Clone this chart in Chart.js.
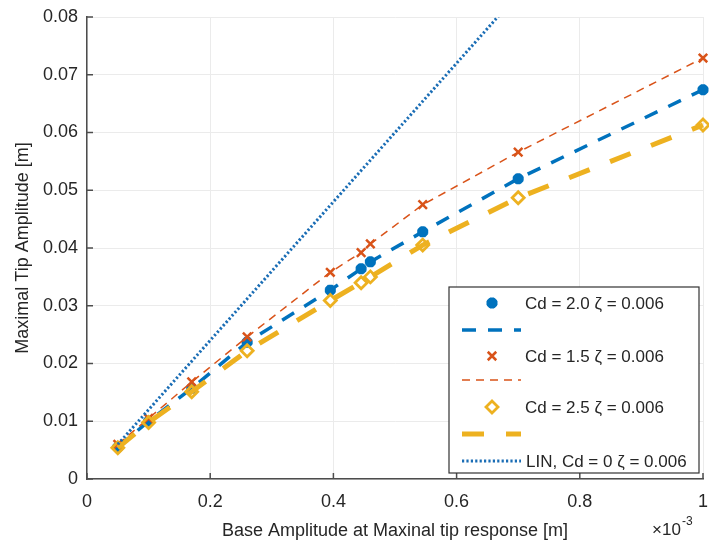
<!DOCTYPE html>
<html lang="en">
<head>
    <meta charset="UTF-8">
    <title>Maximal Tip Amplitude</title>
    <script src="https://cdn.jsdelivr.net/npm/chart.js"></script>
    <style>
        body { margin: 0; background: #fff; }
    </style>
</head>
<body>
    <div style="width: 709px; height: 544px;">
        <canvas id="grafico" width="709" height="544"></canvas>
    </div>
    <script>
        // base amplitude, in units of 1e-3 m
        const baseAmp = [0.05, 0.1, 0.17, 0.26, 0.395, 0.445, 0.46, 0.545, 0.7, 1.0]
        const tipCd20 = [0.0055, 0.0100, 0.0157, 0.0237, 0.0327, 0.0364, 0.0376, 0.0428, 0.0520, 0.0674]
        const tipCd15 = [0.0060, 0.0105, 0.0168, 0.0246, 0.0358, 0.0392, 0.0407, 0.0475, 0.0566, 0.0729]
        const tipCd25 = [0.0054, 0.0098, 0.0151, 0.0222, 0.0309, 0.0340, 0.0350, 0.0405, 0.0487, 0.0613]
        const tipLin  = [0.0060, 0.0120, 0.0204, 0.0312, 0.0474, 0.0534, 0.0552, 0.0654, 0.0840, 0.1200]
        const labels = ["Cd = 2.0 \u03b6 = 0.006", "Cd = 1.5 \u03b6 = 0.006", "Cd = 2.5 \u03b6 = 0.006", "LIN, Cd = 0 \u03b6 = 0.006"]
        const xTitle = "Base Amplitude at Maxinal tip response [m]"
        const yTitle = "Maximal Tip Amplitude [m]"

        const fonte = '"Liberation Sans", Arial, sans-serif'
        const pts = (ys) => baseAmp.map((x, i) => ({ x: x, y: ys[i] }))

        const azul = '#0072BD', laranja = '#D95319', amarelo = '#EDB120'

        // inward ticks, legend box and the x10^-3 multiplier
        const extras = {
          id: 'extras',
          afterDraw(chart) {
            const c = chart.ctx
            const sx = chart.scales.x, sy = chart.scales.y
            const a = chart.chartArea
            c.save()
            c.strokeStyle = '#4d4d4d'
            c.lineWidth = 1.5
            sx.ticks.forEach(t => {
              const px = sx.getPixelForValue(t.value)
              c.beginPath(); c.moveTo(px, a.bottom); c.lineTo(px, a.bottom - 6); c.stroke()
            })
            sy.ticks.forEach(t => {
              const py = sy.getPixelForValue(t.value)
              c.beginPath(); c.moveTo(a.left, py); c.lineTo(a.left + 6, py); c.stroke()
            })

            // legend
            const bx = 449, by = 287, bw = 250, bh = 186
            c.fillStyle = '#fff'
            c.fillRect(bx, by, bw, bh)
            c.strokeStyle = '#333'
            c.lineWidth = 1.2
            c.strokeRect(bx, by, bw, bh)
            c.font = '17px ' + fonte
            c.textBaseline = 'middle'
            c.textAlign = 'left'
            const rows = [303, 330, 356, 380, 407, 434, 461]
            const ds = chart.data.datasets
            for (let i = 0; i < 3; i++) {
              const d = ds[i]
              const ym = rows[i * 2], yl = rows[i * 2 + 1]
              c.strokeStyle = d.borderColor
              c.fillStyle = d.backgroundColor
              c.lineWidth = d.pointBorderWidth
              c.setLineDash([])
              Chart.helpers.drawPoint(c, { pointStyle: d.pointStyle, radius: d.pointRadius, borderWidth: d.pointBorderWidth, rotation: 0 }, 492, ym)
              c.fillStyle = '#262626'
              c.fillText(d.label, 525, ym + 1)
              c.lineWidth = d.borderWidth
              c.setLineDash(d.borderDash)
              c.beginPath(); c.moveTo(462, yl); c.lineTo(521, yl); c.stroke()
            }
            const lin = ds[3]
            c.strokeStyle = lin.borderColor
            c.lineWidth = lin.borderWidth
            c.setLineDash(lin.borderDash)
            c.beginPath(); c.moveTo(462, rows[6]); c.lineTo(521, rows[6]); c.stroke()
            c.setLineDash([])
            c.fillStyle = '#262626'
            c.fillText(lin.label, 526, rows[6] + 1)

            // x10^-3
            c.font = '17px ' + fonte
            c.textBaseline = 'alphabetic'
            c.fillText('\u00d710', 652, 535)
            c.font = '12px ' + fonte
            c.fillText('-3', 682, 525)
            c.restore()
          }
        }

        const ctx = document.getElementById('grafico')
        const grafico = new Chart(ctx, {
          type: 'line',
          data: {
            datasets: [
              { label: labels[0], data: pts(tipCd20), borderColor: azul, backgroundColor: azul,
                borderWidth: 3.5, borderDash: [14, 12], pointStyle: 'star', pointRadius: 5.5,
                pointBorderWidth: 4, order: 3, clip: false },
              { label: labels[1], data: pts(tipCd15), borderColor: laranja, backgroundColor: laranja,
                borderWidth: 1.5, borderDash: [8, 6], pointStyle: 'crossRot', pointRadius: 6,
                pointBorderWidth: 2.5, order: 2, clip: false },
              { label: labels[2], data: pts(tipCd25), borderColor: amarelo, backgroundColor: 'rgba(255,255,255,0)',
                borderWidth: 5, borderDash: [22, 22], pointStyle: 'rectRot', pointRadius: 6,
                pointBorderWidth: 2.8, order: 1, clip: false },
              { label: labels[3], data: pts(tipLin), borderColor: '#1a6db5', backgroundColor: '#1a6db5',
                borderWidth: 3, borderDash: [2.2, 2.2], pointRadius: 0, order: 0 }
            ]
          },
          options: {
            responsive: false,
            animation: false,
            layout: { autoPadding: false, padding: { top: 17, right: 6, left: 0, bottom: 0 } },
            plugins: { legend: { display: false }, tooltip: { enabled: false } },
            scales: {
              x: {
                type: 'linear', min: 0, max: 1,
                afterFit: (s) => { s.height = 65; s.paddingLeft = 0; s.paddingRight = 0 },
                ticks: { stepSize: 0.2, padding: 12, color: '#262626', font: { family: fonte, size: 18 },
                         callback: (v) => String(Number(v.toFixed(1))) },
                grid: { color: '#ebebeb', tickLength: 0 },
                border: { color: '#4d4d4d', width: 1.5 },
                title: { display: true, text: xTitle, color: '#262626', font: { family: fonte, size: 18 },
                         padding: { top: 0, bottom: 2 } }
              },
              y: {
                min: 0, max: 0.08,
                afterFit: (s) => { s.width = 87; s.paddingTop = 0; s.paddingBottom = 0 },
                ticks: { stepSize: 0.01, padding: 9, color: '#262626', font: { family: fonte, size: 18 },
                         callback: (v) => String(Number(v.toFixed(2))) },
                grid: { color: '#ebebeb', tickLength: 0 },
                border: { color: '#4d4d4d', width: 1.5 },
                title: { display: true, text: yTitle, color: '#262626', font: { family: fonte, size: 18 },
                         padding: { top: 12, bottom: 0 } }
              }
            }
          },
          plugins: [extras]
        })
      </script>
</body>
</html>
